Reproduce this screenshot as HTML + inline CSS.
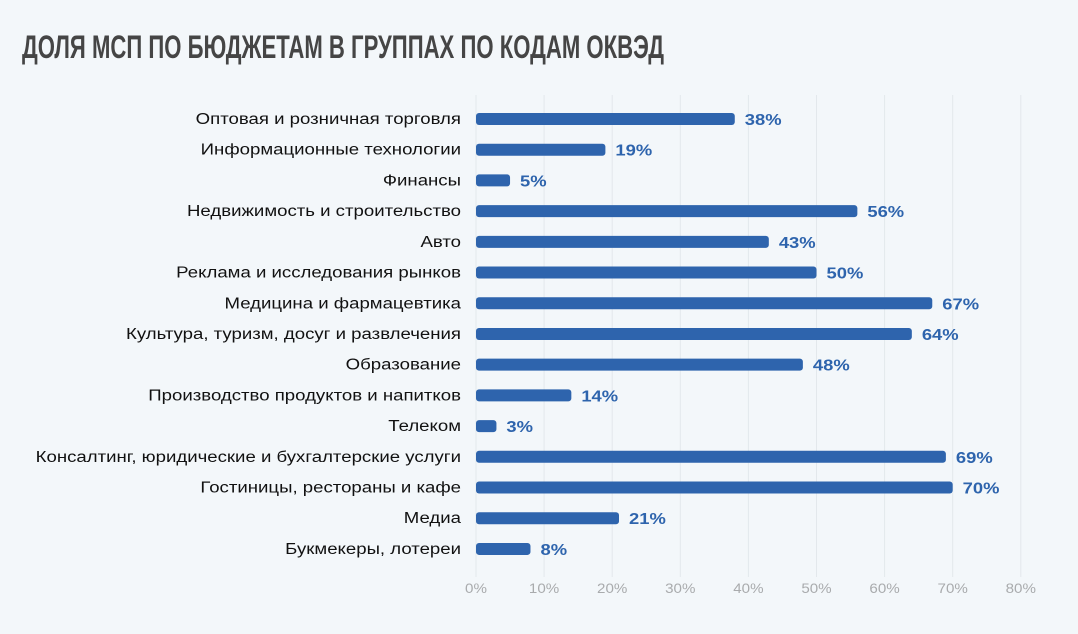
<!DOCTYPE html>
<html><head><meta charset="utf-8"><style>
html,body{margin:0;padding:0;background:#f3f7fa;}
svg{display:block;font-family:"Liberation Sans","DejaVu Sans",sans-serif;}
</style></head><body>
<svg id="c" width="1078" height="634" xmlns="http://www.w3.org/2000/svg">
<rect width="1078" height="634" fill="#f3f7fa"/>
<text x="22" y="58" font-size="32" font-weight="bold" fill="#454545" textLength="642" lengthAdjust="spacingAndGlyphs">ДОЛЯ МСП ПО БЮДЖЕТАМ В ГРУППАХ ПО КОДАМ ОКВЭД</text>
<g id="grid"></g><g id="bars"></g>
</svg>
<script>
const categories=["Оптовая и розничная торговля","Информационные технологии","Финансы","Недвижимость и строительство","Авто","Реклама и исследования рынков","Медицина и фармацевтика","Культура, туризм, досуг и развлечения","Образование","Производство продуктов и напитков","Телеком","Консалтинг, юридические и бухгалтерские услуги","Гостиницы, рестораны и кафе","Медиа","Букмекеры, лотереи"];
const values=[38,19,5,56,43,50,67,64,48,14,3,69,70,21,8];
const ticks=[0,10,20,30,40,50,60,70,80];
const NS="http://www.w3.org/2000/svg";
const x0=476,pxPer=6.81,y0=119,step=30.71;
const xs=v=>x0+v*pxPer, ys=i=>y0+i*step;
const grid=document.getElementById('grid'),bars=document.getElementById('bars');
function mk(tag,attrs,parent){const e=document.createElementNS(NS,tag);for(const k in attrs)e.setAttribute(k,attrs[k]);parent.appendChild(e);return e;}
function widen(t,f){const w=t.getComputedTextLength();t.setAttribute('textLength',(w*f).toFixed(1));t.setAttribute('lengthAdjust','spacingAndGlyphs');}
ticks.forEach(t=>{
 const l=mk('line',{x1:xs(t),x2:xs(t),y1:95,y2:577,stroke:'#e3e8ec','stroke-width':1},grid);
 
 
 const tx=mk('text',{x:xs(t),y:593,'text-anchor':'middle','font-size':14,fill:'#a9abad'},grid);
 tx.textContent=t+'%';
 
 
 widen(tx,1.08);
});
categories.forEach((c,i)=>{
 const y=ys(i);
 const lb=mk('text',{x:461,y:y+5,'text-anchor':'end','font-size':15.5,fill:'#111'},bars);
 lb.textContent=c;
 
 
 widen(lb,1.2);
 const r=mk('rect',{x:x0,y:y-6,width:Math.max(values[i]*pxPer,2),height:12,rx:3,fill:'#2e64ad'},bars);
 
 
 const v=mk('text',{x:xs(values[i])+10,y:y+6,'font-size':16,'font-weight':'bold',fill:'#2e64ad'},bars);
 v.textContent=values[i]+'%';
 
 
 widen(v,1.15);
});
</script>
</body></html>
